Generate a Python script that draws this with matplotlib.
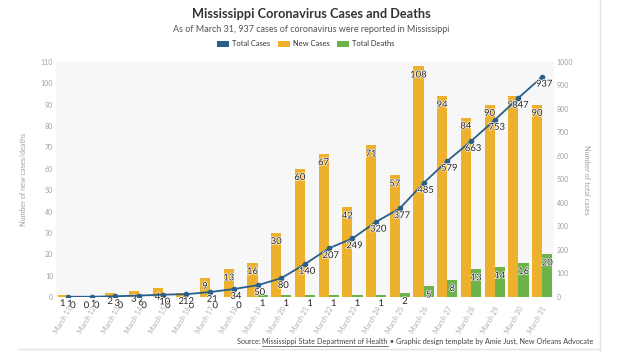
import matplotlib
matplotlib.use("Agg")
import matplotlib.pyplot as plt
import matplotlib.patheffects as pe
from matplotlib.patches import Patch
from matplotlib.lines import Line2D
import numpy as np

dates = ["March 11", "March 12", "March 13", "March 14", "March 15", "March 16", "March 17",
         "March 18", "March 19", "March 20", "March 21", "March 22", "March 23", "March 24",
         "March 25", "March 26", "March 27", "March 28", "March 29", "March 30", "March 31"]
total_cases = [1, 1, 3, 6, 10, 12, 21, 34, 50, 80, 140, 207, 249, 320, 377, 485, 579, 663, 753, 847, 937]
new_cases = [1, 0, 2, 3, 4, 2, 9, 13, 16, 30, 60, 67, 42, 71, 57, 108, 94, 84, 90, 94, 90]
total_deaths = [0, 0, 0, 0, 0, 0, 0, 0, 1, 1, 1, 1, 1, 1, 2, 5, 8, 13, 14, 16, 20]

C_TOTAL = "#2a5f8a"
C_NEW = "#edb12e"
C_DEATH = "#6db24a"
FONT = ["Lato", "DejaVu Sans"]
plt.rcParams["font.family"] = FONT

fig = plt.figure(figsize=(6.22, 3.52), dpi=100)
ax = fig.add_axes([0.090, 0.1563, 0.8007, 0.6676])
ax.set_facecolor("#f7f7f7")
ax2 = ax.twinx()

x = np.arange(len(dates))
w = 0.43
ax.bar(x - w / 2, new_cases, width=w, color=C_NEW, zorder=2)
ax.bar(x + w / 2, total_deaths, width=w, color=C_DEATH, zorder=2)
ax2.plot(x, total_cases, color=C_TOTAL, lw=1.3, marker="o", ms=3, zorder=3)

ax.set_xlim(-0.5, len(dates) - 0.5)
ax.set_ylim(0, 110)
ax2.set_ylim(0, 1000)
ax.set_yticks(range(0, 111, 10))
ax2.set_yticks(range(0, 1001, 100))

for a in (ax, ax2):
    for s in a.spines.values():
        s.set_visible(False)
    a.tick_params(length=0, labelsize=5, labelcolor="#a0a0a0", pad=2)

ax.set_xticks(x)
ax.set_xticklabels(dates, rotation=60, ha="right", va="top", rotation_mode="anchor",
                   fontsize=5, color="#b0b0b0")
ax.tick_params(axis="x", pad=6)

ax.set_ylabel("Number of new cases/deaths", fontsize=5.2, color="#a0a0a0", labelpad=10)
ax2.set_ylabel("Number of total cases", fontsize=5.2, color="#a0a0a0", rotation=270, labelpad=12)

stroke = [pe.withStroke(linewidth=1.0, foreground="white")]
lab_kw = dict(fontsize=6.8, color="#222222", ha="center", va="top", path_effects=stroke,
              zorder=5, annotation_clip=False)
for i in range(len(dates)):
    ax.annotate(str(new_cases[i]), (x[i] - w / 2, new_cases[i]), xytext=(0, -3),
                textcoords="offset points", **lab_kw)
    ax.annotate(str(total_deaths[i]), (x[i] + w / 2, total_deaths[i]), xytext=(0, -3),
                textcoords="offset points", **lab_kw)
    ax2.annotate(str(total_cases[i]), (x[i], total_cases[i]), xytext=(1.5, -2),
                 textcoords="offset points", **lab_kw)

fig.text(0.5, 1 - 14 / 352, "Mississippi Coronavirus Cases and Deaths", ha="center", va="center",
         fontsize=9.2, fontweight="bold", color="#333333")
fig.text(0.5, 1 - 29 / 352, "As of March 31, 937 cases of coronavirus were reported in Mississippi",
         ha="center", va="center", fontsize=6.5, color="#555555")

handles = [Patch(facecolor=C_TOTAL, label="Total Cases"),
           Patch(facecolor=C_NEW, label="New Cases"),
           Patch(facecolor=C_DEATH, label="Total Deaths")]
fig.legend(handles=handles, loc="center", bbox_to_anchor=(0.492, 1 - 44 / 352), ncol=3,
           frameon=False, fontsize=5.4, handlelength=1.6, handleheight=0.9,
           handletextpad=0.4, columnspacing=1.0, labelcolor="#333333")

# borders
fig.add_artist(Line2D([600 / 622, 600 / 622], [2 / 352, 1.0], transform=fig.transFigure,
                      color="#e3e3e3", lw=1))
fig.add_artist(Line2D([18 / 622, 600 / 622], [3 / 352, 3 / 352], transform=fig.transFigure,
                      color="#e3e3e3", lw=1))

# source line, right-aligned with underlined piece
fig.canvas.draw()
renderer = fig.canvas.get_renderer()
parts = [("Source: ", False), ("Mississippi State Department of Health", True),
         (" \u2022 Graphic design template by Amie Just, New Orleans Advocate", False)]
y_src = 1 - 344 / 352
xpos = 593 / 622
for s, ul in reversed(parts):
    t = fig.text(xpos, y_src, s, ha="right", va="baseline", fontsize=5.2, color="#444444")
    bb = t.get_window_extent(renderer)
    if ul:
        x0 = bb.x0 / fig.bbox.width
        x1 = bb.x1 / fig.bbox.width
        fig.add_artist(Line2D([x0, x1], [y_src - 1.5 / 352] * 2, transform=fig.transFigure,
                              color="#444444", lw=0.5))
    xpos = bb.x0 / fig.bbox.width

fig.savefig("out.png", dpi=100)
